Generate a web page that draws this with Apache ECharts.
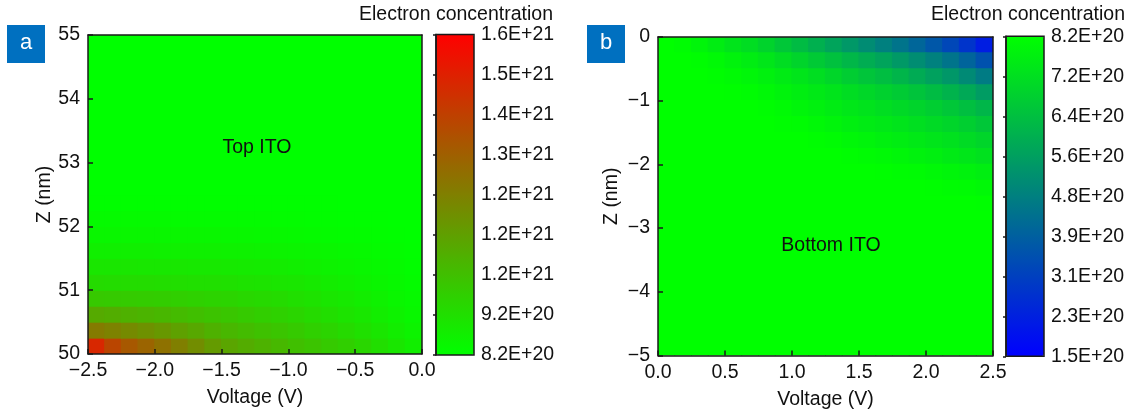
<!DOCTYPE html>
<html><head><meta charset="utf-8">
<script src="https://cdn.jsdelivr.net/npm/echarts@6/dist/echarts.min.js"></script>
<style>html,body{margin:0;padding:0;background:#fff}#c{width:1138px;height:410px}</style>
</head><body><div id="c"></div>
<script>
// ---- data (electron concentration in units of 1E+20 cm^-3) ----
// panel a: cell centres
const voltageA = [-2.4375,-2.3125,-2.1875,-2.0625,-1.9375,-1.8125,-1.6875,-1.5625,-1.4375,-1.3125,-1.1875,-1.0625,-0.9375,-0.8125,-0.6875,-0.5625,-0.4375,-0.3125,-0.1875,-0.0625];
const zA = [50.125,50.375,50.625,50.875,51.125,51.375,51.625,51.875,52.125,52.375,52.625,52.875,53.125,53.375,53.625,53.875,54.125,54.375,54.625,54.875];
// rows from z = 50.125 (bottom) upward
const concA = [
 [14.8,13.9,13.3,12.95,12.55,12.12,11.69,11.26,10.94,10.75,10.55,10.36,10.17,10.0,9.83,9.66,9.45,9.2,8.96,8.72],
 [12.23,12.01,11.79,11.57,11.34,11.09,10.85,10.6,10.41,10.26,10.11,9.96,9.81,9.65,9.5,9.34,9.16,8.96,8.76,8.56],
 [10.8,10.7,10.6,10.5,10.39,10.27,10.16,10.04,9.93,9.82,9.71,9.6,9.48,9.34,9.21,9.07,8.92,8.76,8.59,8.43],
 [9.84,9.81,9.79,9.76,9.72,9.67,9.61,9.56,9.5,9.43,9.36,9.29,9.19,9.08,8.97,8.86,8.74,8.62,8.49,8.37],
 [9.29,9.28,9.27,9.26,9.24,9.22,9.19,9.17,9.14,9.1,9.05,9.01,8.95,8.86,8.77,8.68,8.59,8.5,8.41,8.32],
 [8.96,8.95,8.95,8.94,8.93,8.92,8.91,8.9,8.87,8.84,8.81,8.78,8.73,8.67,8.6,8.54,8.48,8.41,8.34,8.27],
 [8.69,8.69,8.68,8.68,8.67,8.67,8.66,8.65,8.64,8.62,8.6,8.58,8.55,8.51,8.46,8.42,8.38,8.33,8.29,8.24],
 [8.47,8.47,8.47,8.47,8.46,8.46,8.46,8.46,8.45,8.44,8.42,8.41,8.39,8.36,8.32,8.3,8.28,8.26,8.23,8.21],
 [8.34,8.34,8.34,8.34,8.34,8.33,8.33,8.33,8.33,8.32,8.31,8.3,8.29,8.27,8.26,8.24,8.23,8.22,8.21,8.2],
 [8.24,8.24,8.24,8.24,8.24,8.24,8.24,8.24,8.24,8.24,8.23,8.23,8.23,8.22,8.22,8.21,8.21,8.2,8.2,8.2],
 [8.2,8.2,8.2,8.2,8.2,8.2,8.2,8.2,8.2,8.2,8.2,8.2,8.2,8.2,8.2,8.2,8.2,8.2,8.2,8.2],
 [8.2,8.2,8.2,8.2,8.2,8.2,8.2,8.2,8.2,8.2,8.2,8.2,8.2,8.2,8.2,8.2,8.2,8.2,8.2,8.2],
 [8.2,8.2,8.2,8.2,8.2,8.2,8.2,8.2,8.2,8.2,8.2,8.2,8.2,8.2,8.2,8.2,8.2,8.2,8.2,8.2],
 [8.2,8.2,8.2,8.2,8.2,8.2,8.2,8.2,8.2,8.2,8.2,8.2,8.2,8.2,8.2,8.2,8.2,8.2,8.2,8.2],
 [8.2,8.2,8.2,8.2,8.2,8.2,8.2,8.2,8.2,8.2,8.2,8.2,8.2,8.2,8.2,8.2,8.2,8.2,8.2,8.2],
 [8.2,8.2,8.2,8.2,8.2,8.2,8.2,8.2,8.2,8.2,8.2,8.2,8.2,8.2,8.2,8.2,8.2,8.2,8.2,8.2],
 [8.2,8.2,8.2,8.2,8.2,8.2,8.2,8.2,8.2,8.2,8.2,8.2,8.2,8.2,8.2,8.2,8.2,8.2,8.2,8.2],
 [8.2,8.2,8.2,8.2,8.2,8.2,8.2,8.2,8.2,8.2,8.2,8.2,8.2,8.2,8.2,8.2,8.2,8.2,8.2,8.2],
 [8.2,8.2,8.2,8.2,8.2,8.2,8.2,8.2,8.2,8.2,8.2,8.2,8.2,8.2,8.2,8.2,8.2,8.2,8.2,8.2],
 [8.2,8.2,8.2,8.2,8.2,8.2,8.2,8.2,8.2,8.2,8.2,8.2,8.2,8.2,8.2,8.2,8.2,8.2,8.2,8.2]
];
// panel b: cell centres, rows listed from top (z = -0.125) downward
const voltageB = [0.0625,0.1875,0.3125,0.4375,0.5625,0.6875,0.8125,0.9375,1.0625,1.1875,1.3125,1.4375,1.5625,1.6875,1.8125,1.9375,2.0625,2.1875,2.3125,2.4375];
const zB = [-0.125,-0.375,-0.625,-0.875,-1.125,-1.375,-1.625,-1.875,-2.125,-2.375,-2.625,-2.875,-3.125,-3.375,-3.625,-3.875,-4.125,-4.375,-4.625,-4.875];
const concB = [
 [8.2,8.11,7.93,7.72,7.5,7.3,7.04,6.74,6.43,6.12,5.81,5.49,5.18,4.87,4.54,4.17,3.78,3.37,2.87,2.26],
 [8.2,8.2,8.15,8.03,7.89,7.74,7.54,7.31,7.07,6.82,6.57,6.31,6.04,5.8,5.51,5.21,4.88,4.54,4.13,3.64],
 [8.2,8.2,8.2,8.16,8.06,7.97,7.84,7.68,7.51,7.32,7.11,6.89,6.67,6.48,6.26,6.0,5.74,5.46,5.13,4.72],
 [8.2,8.2,8.2,8.2,8.18,8.11,8.01,7.89,7.76,7.62,7.48,7.31,7.15,7.0,6.83,6.65,6.43,6.2,5.94,5.61],
 [8.2,8.2,8.2,8.2,8.2,8.2,8.15,8.07,7.94,7.83,7.71,7.58,7.46,7.34,7.2,7.06,6.9,6.73,6.52,6.27],
 [8.2,8.2,8.2,8.2,8.2,8.2,8.2,8.15,8.11,8.02,7.91,7.79,7.68,7.59,7.48,7.36,7.24,7.1,6.93,6.73],
 [8.2,8.2,8.2,8.2,8.2,8.2,8.2,8.2,8.2,8.16,8.09,8.0,7.9,7.81,7.72,7.61,7.51,7.4,7.26,7.09],
 [8.2,8.2,8.2,8.2,8.2,8.2,8.2,8.2,8.2,8.2,8.2,8.15,8.09,8.03,7.97,7.87,7.77,7.66,7.55,7.42],
 [8.2,8.2,8.2,8.2,8.2,8.2,8.2,8.2,8.2,8.2,8.2,8.2,8.2,8.17,8.13,8.09,8.02,7.95,7.87,7.76],
 [8.2,8.2,8.2,8.2,8.2,8.2,8.2,8.2,8.2,8.2,8.2,8.2,8.2,8.2,8.2,8.2,8.17,8.13,8.09,8.02],
 [8.2,8.2,8.2,8.2,8.2,8.2,8.2,8.2,8.2,8.2,8.2,8.2,8.2,8.2,8.2,8.2,8.2,8.2,8.2,8.18],
 [8.2,8.2,8.2,8.2,8.2,8.2,8.2,8.2,8.2,8.2,8.2,8.2,8.2,8.2,8.2,8.2,8.2,8.2,8.2,8.2],
 [8.2,8.2,8.2,8.2,8.2,8.2,8.2,8.2,8.2,8.2,8.2,8.2,8.2,8.2,8.2,8.2,8.2,8.2,8.2,8.2],
 [8.2,8.2,8.2,8.2,8.2,8.2,8.2,8.2,8.2,8.2,8.2,8.2,8.2,8.2,8.2,8.2,8.2,8.2,8.2,8.2],
 [8.2,8.2,8.2,8.2,8.2,8.2,8.2,8.2,8.2,8.2,8.2,8.2,8.2,8.2,8.2,8.2,8.2,8.2,8.2,8.2],
 [8.2,8.2,8.2,8.2,8.2,8.2,8.2,8.2,8.2,8.2,8.2,8.2,8.2,8.2,8.2,8.2,8.2,8.2,8.2,8.2],
 [8.2,8.2,8.2,8.2,8.2,8.2,8.2,8.2,8.2,8.2,8.2,8.2,8.2,8.2,8.2,8.2,8.2,8.2,8.2,8.2],
 [8.2,8.2,8.2,8.2,8.2,8.2,8.2,8.2,8.2,8.2,8.2,8.2,8.2,8.2,8.2,8.2,8.2,8.2,8.2,8.2],
 [8.2,8.2,8.2,8.2,8.2,8.2,8.2,8.2,8.2,8.2,8.2,8.2,8.2,8.2,8.2,8.2,8.2,8.2,8.2,8.2],
 [8.2,8.2,8.2,8.2,8.2,8.2,8.2,8.2,8.2,8.2,8.2,8.2,8.2,8.2,8.2,8.2,8.2,8.2,8.2,8.2]
];
const rangeA = [8.2, 16.0];
const rangeB = [1.5, 8.2];
const cbLabelsA = ['1.6E+21','1.5E+21','1.4E+21','1.3E+21','1.2E+21','1.2E+21','1.2E+21','9.2E+20','8.2E+20'];
const cbLabelsB = ['8.2E+20','7.2E+20','6.4E+20','5.6E+20','4.8E+20','3.9E+20','3.1E+20','2.3E+20','1.5E+20'];

// ---- chart ----
const chart = echarts.init(document.getElementById('c'), null, {renderer: 'canvas'});
const FONT = '"Liberation Sans", Arial, sans-serif';
const INK = '#111';
const FS = 19.5;
const LINE = {color: '#1a1a1a', width: 1.5};
const minus = s => String(s).replace('-', '\u2212');
function toCells(rows) { const out = []; rows.forEach((row, j) => row.forEach((v, k) => out.push([k, j, v]))); return out; }

const GA = {left: 88, top: 35, width: 334, height: 319};
const GB = {left: 658, top: 37, width: 335, height: 318.5};
const CA = {left: 436, top: 34.5, width: 38, height: 320.5};
const CB = {left: 1006, top: 36.3, width: 38, height: 320};
const grid = g => Object.assign({containLabel: false, outerBoundsMode: 'none', show: false}, g);

function visX(gi, min, max, name) {
  return {gridIndex: gi, type: 'value', min, max, interval: 0.5, position: 'bottom', z: 10,
    axisLine: {show: true, onZero: false, lineStyle: LINE},
    axisTick: {show: true, inside: true, length: 5, lineStyle: LINE},
    splitLine: {show: false},
    axisLabel: {show: true, color: INK, fontSize: FS, fontFamily: FONT, margin: 7, showMinLabel: true, showMaxLabel: true,
      formatter: v => minus(v.toFixed(1))},
    name, nameLocation: 'middle', nameGap: 34,
    nameTextStyle: {color: INK, fontSize: FS, fontFamily: FONT}};
}
function visY(gi, min, max, name, gap) {
  return {gridIndex: gi, type: 'value', min, max, interval: 1, position: 'left', z: 10,
    axisLine: {show: true, onZero: false, lineStyle: LINE},
    axisTick: {show: true, inside: true, length: 5, lineStyle: LINE},
    splitLine: {show: false},
    axisLabel: {show: true, color: INK, fontSize: FS, fontFamily: FONT, margin: 8, showMinLabel: true, showMaxLabel: true,
      formatter: v => minus(String(Math.round(v)))},
    name, nameLocation: 'middle', nameGap: gap,
    nameTextStyle: {color: INK, fontSize: FS, fontFamily: FONT}};
}
function lineOnly(gi, min, max, position) {
  return {gridIndex: gi, type: 'value', min, max, position, z: 10,
    axisLine: {show: true, onZero: false, lineStyle: LINE},
    axisTick: {show: false}, axisLabel: {show: false}, splitLine: {show: false}};
}
function cbAxis(gi, labels) {
  return {gridIndex: gi, type: 'category', data: labels.slice().reverse(), boundaryGap: false, position: 'right', z: 10,
    axisLine: {show: true, lineStyle: LINE},
    axisTick: {show: true, inside: true, length: 3, interval: 0, lineStyle: LINE},
    splitLine: {show: false},
    axisLabel: {show: true, interval: 0, color: INK, fontSize: FS, fontFamily: FONT, margin: 7}};
}
function txt(text, x, y, align, vAlign, color, size) {
  return {type: 'text', x, y, z: 100, silent: true,
    style: {text, fill: color || INK, font: (size || FS) + 'px ' + FONT,
      textAlign: align, textVerticalAlign: vAlign, align, verticalAlign: vAlign}};
}
function frame(c) {
  return {type: 'rect', z: 100, silent: true,
    shape: {x: c.left, y: c.top, width: c.width, height: c.height},
    style: {fill: null, stroke: '#1a1a1a', lineWidth: 1.5}};
}
// each cell is a rect laid out by the category axes, coloured by the visualMap; 1px overlap hides seams
function renderCell(params, api) {
  const c = api.coord([api.value(0), api.value(1)]);
  const s = api.size([1, 1]);
  return {type: 'rect',
    shape: {x: c[0] - s[0] / 2 - 0.6, y: c[1] - s[1] / 2 - 0.6, width: s[0] + 1.2, height: s[1] + 1.2},
    style: {fill: api.visual('color'), stroke: null}};
}

const option = {
  animation: false,
  backgroundColor: '#fff',
  textStyle: {fontFamily: FONT},
  grid: [grid(GA), grid(GA), grid(GB), grid(GB), grid(CA), grid(CB)],
  xAxis: [
    {gridIndex: 0, type: 'category', data: voltageA, show: false},
    visX(1, -2.5, 0, 'Voltage (V)'),
    lineOnly(1, -2.5, 0, 'top'),
    {gridIndex: 2, type: 'category', data: voltageB, show: false},
    visX(3, 0, 2.5, 'Voltage (V)'),
    lineOnly(3, 0, 2.5, 'top'),
    {gridIndex: 4, type: 'value', show: false, min: 0, max: 1},
    {gridIndex: 5, type: 'value', show: false, min: 0, max: 1}
  ],
  yAxis: [
    {gridIndex: 0, type: 'category', data: zA, show: false},
    visY(1, 50, 55, 'Z (nm)', 32),
    lineOnly(1, 50, 55, 'right'),
    {gridIndex: 2, type: 'category', data: zB, inverse: true, show: false},
    visY(3, -5, 0, 'Z (nm)', 36),
    lineOnly(3, -5, 0, 'right'),
    cbAxis(4, cbLabelsA),
    cbAxis(5, cbLabelsB)
  ],
  visualMap: [
    {type: 'continuous', seriesIndex: 0, dimension: 2, min: rangeA[0], max: rangeA[1], orient: 'vertical',
      left: CA.left, top: CA.top, itemWidth: CA.width, itemHeight: CA.height, padding: 0,
      calculable: false, hoverLink: false, inRange: {color: ['#00ff00', '#ff0000']}},
    {type: 'continuous', seriesIndex: 1, dimension: 2, min: rangeB[0], max: rangeB[1], orient: 'vertical',
      left: CB.left, top: CB.top, itemWidth: CB.width, itemHeight: CB.height, padding: 0,
      calculable: false, hoverLink: false, inRange: {color: ['#0000ff', '#00ff00']}}
  ],
  series: [
    {type: 'custom', xAxisIndex: 0, yAxisIndex: 0, data: toCells(concA), encode: {x: 0, y: 1}, clip: true,
      renderItem: renderCell, silent: true, z: 2},
    {type: 'custom', xAxisIndex: 3, yAxisIndex: 3, data: toCells(concB), encode: {x: 0, y: 1}, clip: true,
      renderItem: renderCell, silent: true, z: 2}
  ],
  graphic: [
    frame(CA), frame(CB),
    {type: 'rect', z: 100, silent: true, shape: {x: 7, y: 25, width: 38, height: 38}, style: {fill: '#0070c0'}},
    txt('a', 26, 43, 'center', 'middle', '#fff', 22),
    {type: 'rect', z: 100, silent: true, shape: {x: 587, y: 25, width: 38, height: 38}, style: {fill: '#0070c0'}},
    txt('b', 606, 43, 'center', 'middle', '#fff', 22),
    txt('Electron concentration', 553, 15, 'right', 'middle'),
    txt('Electron concentration', 1125, 15, 'right', 'middle'),
    txt('Top ITO', 257, 148, 'center', 'middle'),
    txt('Bottom ITO', 831, 246, 'center', 'middle')
  ]
};
chart.setOption(option);
</script>
</body></html>
